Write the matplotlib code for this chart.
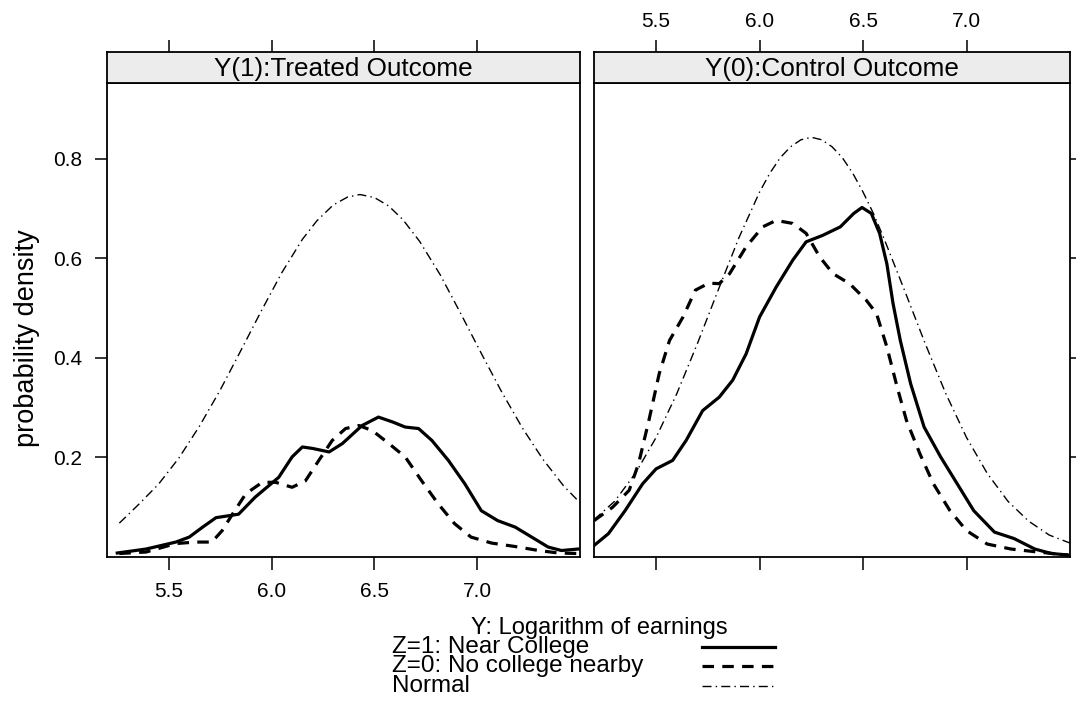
import matplotlib
matplotlib.use('Agg')
import matplotlib.pyplot as plt
from matplotlib.lines import Line2D

plt.rcParams['font.family'] = ['Liberation Sans', 'DejaVu Sans']

# ---- data ----
panel_titles = ['Y(1):Treated Outcome', 'Y(0):Control Outcome']
x_ticks = [5.5, 6.0, 6.5, 7.0]
y_ticks = [0.2, 0.4, 0.6, 0.8]
series_labels = ['Z=1: Near College', 'Z=0: No college nearby', 'Normal']

# Y(1) treated
near_t_x = [5.25, 5.39, 5.535, 5.60, 5.665, 5.73, 5.81, 5.84, 5.92, 6.035, 6.10, 6.15, 6.20, 6.28, 6.345,
            6.44, 6.52, 6.59, 6.65, 6.715, 6.78, 6.86, 6.94, 7.02, 7.10, 7.185, 7.265, 7.345, 7.41, 7.49]
near_t_y = [0.008, 0.016, 0.030, 0.040, 0.060, 0.079, 0.084, 0.086, 0.120, 0.160, 0.201, 0.221, 0.218, 0.211, 0.228,
            0.264, 0.281, 0.271, 0.261, 0.258, 0.234, 0.194, 0.147, 0.093, 0.073, 0.060, 0.040, 0.020, 0.013, 0.016]
far_t_x = [5.26, 5.39, 5.535, 5.63, 5.71, 5.76, 5.81, 5.875, 5.955, 6.02, 6.10, 6.165, 6.23, 6.295,
           6.36, 6.425, 6.49, 6.57, 6.65, 6.73, 6.81, 6.89, 6.97, 7.07, 7.185, 7.30, 7.395, 7.49]
far_t_y = [0.007, 0.010, 0.027, 0.030, 0.030, 0.053, 0.086, 0.127, 0.150, 0.150, 0.140, 0.153, 0.194, 0.234,
           0.258, 0.264, 0.254, 0.228, 0.201, 0.153, 0.107, 0.067, 0.040, 0.028, 0.021, 0.013, 0.008, 0.007]
norm_t_x = [5.26, 5.35, 5.45, 5.55, 5.65, 5.75, 5.85, 5.95, 6.05, 6.15, 6.22, 6.30, 6.37, 6.43,
            6.50, 6.57, 6.64, 6.72, 6.82, 6.92, 7.02, 7.12, 7.22, 7.32, 7.42, 7.50]
norm_t_y = [0.068, 0.104, 0.146, 0.199, 0.263, 0.335, 0.414, 0.494, 0.571, 0.638, 0.675, 0.707, 0.723, 0.728,
            0.722, 0.705, 0.677, 0.634, 0.567, 0.489, 0.409, 0.331, 0.259, 0.196, 0.143, 0.109]

# Y(0) control
near_c_x = [5.20, 5.27, 5.35, 5.435, 5.50, 5.58, 5.645, 5.725, 5.805, 5.87, 5.935, 6.00, 6.08, 6.16, 6.225,
            6.305, 6.39, 6.455, 6.495, 6.54, 6.58, 6.615, 6.645, 6.68, 6.73, 6.795, 6.875, 6.955, 7.035,
            7.135, 7.23, 7.33, 7.41, 7.49]
near_c_y = [0.023, 0.047, 0.093, 0.147, 0.177, 0.194, 0.234, 0.294, 0.321, 0.355, 0.408, 0.482, 0.542, 0.596, 0.633,
            0.646, 0.663, 0.690, 0.702, 0.690, 0.650, 0.589, 0.509, 0.435, 0.348, 0.261, 0.201, 0.147, 0.093,
            0.050, 0.037, 0.016, 0.007, 0.004]
far_c_x = [5.20, 5.29, 5.37, 5.415, 5.465, 5.515, 5.565, 5.63, 5.69, 5.755, 5.805, 5.855, 5.935, 6.015, 6.08,
           6.16, 6.225, 6.29, 6.355, 6.435, 6.515, 6.565, 6.615, 6.665, 6.71, 6.775, 6.84, 6.92, 7.00,
           7.10, 7.215, 7.345, 7.49]
far_c_y = [0.073, 0.100, 0.134, 0.187, 0.274, 0.368, 0.435, 0.482, 0.536, 0.550, 0.549, 0.569, 0.623, 0.663, 0.676,
           0.670, 0.650, 0.603, 0.569, 0.549, 0.516, 0.489, 0.422, 0.341, 0.274, 0.207, 0.147, 0.093, 0.053,
           0.026, 0.016, 0.010, 0.004]
norm_c_x = [5.20, 5.30, 5.40, 5.50, 5.60, 5.70, 5.80, 5.90, 6.00, 6.05, 6.10, 6.15, 6.20, 6.25, 6.30,
            6.35, 6.40, 6.45, 6.50, 6.55, 6.60, 6.70, 6.80, 6.90, 7.00, 7.10, 7.20, 7.30, 7.40, 7.50]
norm_c_y = [0.075, 0.112, 0.168, 0.240, 0.328, 0.429, 0.536, 0.641, 0.733, 0.771, 0.802, 0.824, 0.838, 0.843, 0.838,
            0.824, 0.802, 0.771, 0.733, 0.690, 0.641, 0.536, 0.429, 0.328, 0.240, 0.168, 0.112, 0.072, 0.044, 0.028]

panels = [
    (near_t_x, near_t_y, far_t_x, far_t_y, norm_t_x, norm_t_y),
    (near_c_x, near_c_y, far_c_x, far_c_y, norm_c_x, norm_c_y),
]

# line styles (solid / dashed / dot-dash)
styles = [
    dict(color='black', lw=2.3, ls='-', solid_joinstyle='round'),
    dict(color='black', lw=2.3, ls=(0, (3.6, 2.6)), dash_joinstyle='round'),
    dict(color='black', lw=1.0, ls=(0, (6.5, 3.0, 1.0, 3.0))),
]

W, H = 1076, 727
fig = plt.figure(figsize=(W / 100, H / 100), dpi=100)

xlim = (5.2, 7.5)
ylim = (0.0, 0.952)
lefts = [107, 594]
widths = [473, 476]
tick_kw = dict(direction='out', length=9, width=1.1, labelsize=15, color='black')

for i, (x1, y1, x0, y0, xn, yn) in enumerate(panels):
    ax = fig.add_axes([lefts[i] / W, 1 - 557 / H, widths[i] / W, 474 / H])
    ax.plot(x1, y1, **styles[0])
    ax.plot(x0, y0, **styles[1])
    ax.plot(xn, yn, **styles[2])
    ax.set_xlim(*xlim)
    ax.set_ylim(*ylim)
    ax.set_xticks(x_ticks)
    ax.set_yticks(y_ticks)
    ax.set_xticklabels([f'{v:.1f}' for v in x_ticks])
    ax.set_yticklabels([f'{v:.1f}' for v in y_ticks])
    for s in ax.spines.values():
        s.set_linewidth(1.3)
    ax.tick_params(axis='x', pad=9, **tick_kw)
    ax.tick_params(axis='y', pad=9, **tick_kw)
    if i == 0:
        ax.tick_params(bottom=True, labelbottom=True, top=False, left=True, labelleft=True, right=False)
    else:
        ax.tick_params(bottom=True, labelbottom=False, top=False, left=False, labelleft=False,
                       right=True, labelright=False)

    # strip on top with the panel title
    st = fig.add_axes([lefts[i] / W, 1 - 83 / H, widths[i] / W, 31 / H])
    st.set_facecolor('#ececec')
    st.set_xlim(*xlim)
    st.set_xticks(x_ticks)
    st.set_xticklabels([f'{v:.1f}' for v in x_ticks])
    st.set_yticks([])
    for s in st.spines.values():
        s.set_linewidth(1.3)
    st.tick_params(axis='x', pad=6, **tick_kw)
    st.tick_params(bottom=False, labelbottom=False, top=True, labeltop=(i == 1))
    st.text(0.5, 0.45, panel_titles[i], transform=st.transAxes, ha='center', va='center', fontsize=18.8)

fig.text(27 / W, 1 - 338 / H, 'probability density', rotation=90, ha='center', va='center', fontsize=19.5)
fig.text(599 / W, 1 - 628 / H, 'Y: Logarithm of earnings', ha='center', va='center', fontsize=17)

# key below the x label: text on the left, line sample on the right
key_rows = [647, 666, 686]
for lab, st_kw, yy in zip(series_labels, styles, key_rows):
    fig.text(392 / W, 1 - yy / H, lab, ha='left', va='center', fontsize=17.5)
    fig.add_artist(Line2D([702 / W, 775 / W], [1 - yy / H, 1 - yy / H], transform=fig.transFigure, **st_kw))

fig.savefig('out.png', dpi=100)
